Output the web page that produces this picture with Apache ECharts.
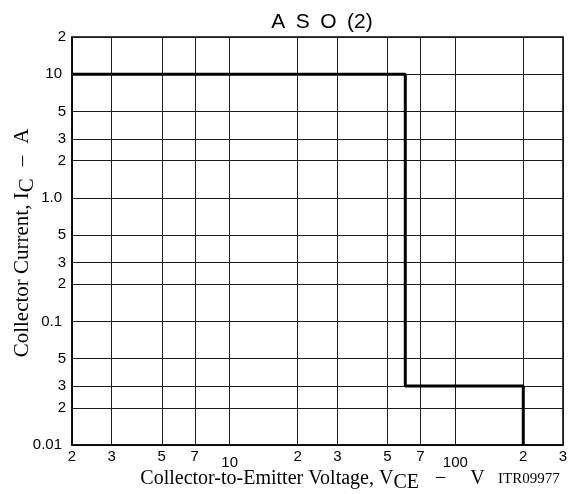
<!DOCTYPE html>
<html>
<head>
<meta charset="utf-8">
<script src="https://cdn.jsdelivr.net/npm/echarts@6/dist/echarts.min.js"></script>
<style>
  html, body { margin: 0; padding: 0; background: #fff; }
  #chart { width: 574px; height: 494px; }
</style>
</head>
<body>
<div id="chart"></div>
<script>
// Area of safe operation: collector-to-emitter voltage (V) against collector current (A)
const vce = [2, 60, 60, 200, 200];
const ic = [10, 10, 0.03, 0.03, 0.01];

// Gridline positions and the short labels printed under / beside them
const xTickValues = [2, 3, 5, 7, 10, 20, 30, 50, 70, 100, 200, 300];
const xTickLabels = ['2', '3', '5', '7', '10', '2', '3', '5', '7', '100', '2', '3'];
const yTickValues = [0.01, 0.02, 0.03, 0.05, 0.1, 0.2, 0.3, 0.5, 1, 2, 3, 5, 10, 20];
const yTickLabels = ['0.01', '2', '3', '5', '0.1', '2', '3', '5', '1.0', '2', '3', '5', '10', '2'];

const SANS = '"Liberation Sans", Arial, Helvetica, sans-serif';
const SERIF = '"Liberation Serif", "Times New Roman", Times, serif';

function labelFor(values, labels, v) {
  for (let i = 0; i < values.length; i++) {
    if (Math.abs(values[i] - v) / values[i] < 1e-6) return labels[i];
  }
  return '';
}
// decade labels (10, 100, 1.0, 0.1 ...) are set slightly apart from the 2/3/5/7 ones
function isDecade(t) { return t.length > 1; }

const chart = echarts.init(document.getElementById('chart'), null, { renderer: 'canvas' });

const tick = { fontFamily: SANS, fontSize: 15, color: '#000' };
const xName = { fontFamily: SERIF, fontSize: 20, color: '#000' };
const yName = { fontFamily: SERIF, fontSize: 21, color: '#000' };

chart.setOption({
  backgroundColor: '#fff',
  animation: false,
  title: {
    text: 'A\u2002S\u2002O\u2002(2)',
    left: 317,
    textAlign: 'center',
    top: 7,
    textStyle: { fontFamily: SANS, fontSize: 21, fontWeight: 'normal', color: '#000' }
  },
  grid: {
    left: 72, right: 11, top: 37, bottom: 49,
    show: true, borderColor: '#000', borderWidth: 1.5,
    containLabel: false, outerBoundsMode: 'none'
  },
  xAxis: {
    type: 'log', logBase: 10, min: 2, max: 300,
    axisLine: { show: true, lineStyle: { color: '#000', width: 1.5 } },
    axisTick: { show: false, customValues: xTickValues },
    minorTick: { show: false },
    minorSplitLine: { show: false },
    splitLine: { show: true, lineStyle: { color: '#1a1a1a', width: 1 } },
    axisLabel: {
      customValues: xTickValues,
      margin: 4,
      fontFamily: SANS, fontSize: 15, color: '#000',
      formatter: function (v) {
        const t = labelFor(xTickValues, xTickLabels, v);
        return isDecade(t) ? '{d|' + t + '}' : '{n|' + t + '}';
      },
      rich: {
        n: Object.assign({}, tick),
        d: Object.assign({}, tick, { padding: [6, 0, 0, 0] })
      }
    },
    name: 'Collector-to-Emitter Voltage, V{sub|CE}{m|\u2212}V',
    nameLocation: 'middle',
    nameGap: 20,
    nameMoveOverlap: false,
    nameTextStyle: Object.assign({}, xName, {
      padding: [0, 10, 0, 0],
      rich: {
        sub: Object.assign({}, xName, { padding: [8, 0, 0, 0] }),
        m: Object.assign({}, xName, { padding: [0, 24, 0, 16] })
      }
    })
  },
  yAxis: {
    type: 'log', logBase: 10, min: 0.01, max: 20,
    axisLine: { show: true, lineStyle: { color: '#000', width: 1.5 } },
    axisTick: { show: false, customValues: yTickValues },
    minorTick: { show: false },
    minorSplitLine: { show: false },
    splitLine: { show: true, lineStyle: { color: '#1a1a1a', width: 1 } },
    axisLabel: {
      customValues: yTickValues,
      margin: 6,
      fontFamily: SANS, fontSize: 15, color: '#000',
      formatter: function (v) {
        const t = labelFor(yTickValues, yTickLabels, v);
        return isDecade(t) ? '{d|' + t + '}' : '{n|' + t + '}';
      },
      rich: {
        n: Object.assign({}, tick),
        d: Object.assign({}, tick, { padding: [0, 4, 0, 0] })
      }
    },
    name: 'Collector Current, I{sub|C}{m|\u2013}A',
    nameLocation: 'middle',
    nameGap: 34,
    nameMoveOverlap: false,
    nameTextStyle: Object.assign({}, yName, {
      padding: [0, 4, 0, 0],
      rich: {
        sub: Object.assign({}, yName, { padding: [10, 0, 0, 0] }),
        m: Object.assign({}, yName, { padding: [0, 12, 0, 12] })
      }
    })
  },
  graphic: [{
    type: 'text',
    left: 498,
    top: 472,
    style: { text: 'ITR09977', font: '15px ' + SERIF, fill: '#000' }
  }],
  series: [{
    type: 'line',
    data: vce.map((v, i) => [v, ic[i]]),
    symbol: 'none',
    lineStyle: { color: '#000', width: 3 },
    z: 5
  }]
});
</script>
</body>
</html>
